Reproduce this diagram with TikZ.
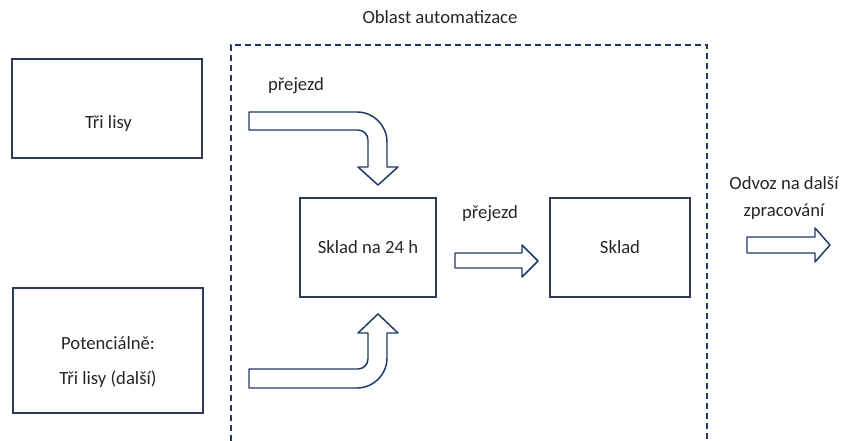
\documentclass[tikz,border=0pt]{standalone}
\usepackage{fontspec}
\setmainfont{Carlito}
\usepackage{xcolor}
\usetikzlibrary{positioning}
\definecolor{navy}{HTML}{203864}
\definecolor{boxline}{HTML}{2E3B56}
\definecolor{ink}{HTML}{262626}
\tikzset{
  box/.style={draw=boxline,line width=1.1pt,inner sep=0pt,
              font=\fontsize{14pt}{17pt}\selectfont,text=ink},
  txt/.style={font=\fontsize{14pt}{17pt}\selectfont,text=ink,align=center,inner sep=0pt},
  blockarr/.style={draw=navy,line width=1.1pt,fill=white,line join=round},
  zone/.style={draw=navy,line width=1.3pt,dash pattern=on 4.5pt off 3pt}
}

\begin{document}
\begin{tikzpicture}[x=0.75pt,y=-0.75pt]
    \path[use as bounding box] (0,0) rectangle (843,441);
    % oblast automatizace
    \draw[zone] (231,441) -- (231,45) -- (707,45) -- (707,441);
    \node[txt] (oblast) at (440,17) {Oblast automatizace};
    % lisy
    \node[box,minimum width=142.5pt,minimum height=74pt] (lis1) at (107,108.5) {};
    \node[txt] (lis1txt) at (108.5,124) {Tři lisy};
    \node[box,minimum width=142.5pt,minimum height=94pt] (lis2) at (108,350.5) {};
    \node[txt] (lis2txt) at (108,362) {Potenciálně:\\[9pt]Tři lisy (další)};
    % sklady
    \node[box,minimum width=102pt,minimum height=74pt] (sklad24) at (368,247.5) {Sklad na 24 h};
    \node[box,minimum width=105pt,minimum height=74pt] (sklad) at (620,247.5) {Sklad};
    % prejezdy
    \node[txt] (prejezd1) at (296,86) {přejezd};
    \node[txt] (prejezd2) at (490,214) {přejezd};
    \node[txt] (odvoz) at (784,198) {Odvoz na další\\[3pt]zpracování};
    % bent arrow from the top
    \draw[blockarr] (249,112) -- (357,112)
      .. controls (373.6,112) and (387,125.4) .. (387,142)
      -- (387,167) -- (398,167) -- (378,185) -- (358,167) -- (368,167) -- (368,140)
      .. controls (368,134.5) and (363.5,130) .. (358,130)
      -- (249,130) -- cycle;
    % bent arrow from the bottom
    \draw[blockarr] (249,369) -- (358,369)
      .. controls (363.5,369) and (368,364.5) .. (368,359)
      -- (368,333) -- (358,333) -- (378,314) -- (398,333) -- (387,333) -- (387,358)
      .. controls (387,374.6) and (373.6,388) .. (357,388)
      -- (249,388) -- cycle;
    % straight arrows
    \draw[blockarr] (455,253) -- (522,253) -- (522,245) -- (538,261)
      -- (522,277) -- (522,268) -- (455,268) -- cycle;
    \draw[blockarr] (747,237) -- (815,237) -- (815,228) -- (830,245)
      -- (815,262) -- (815,253) -- (747,253) -- cycle;
  \end{tikzpicture}
\end{document}
